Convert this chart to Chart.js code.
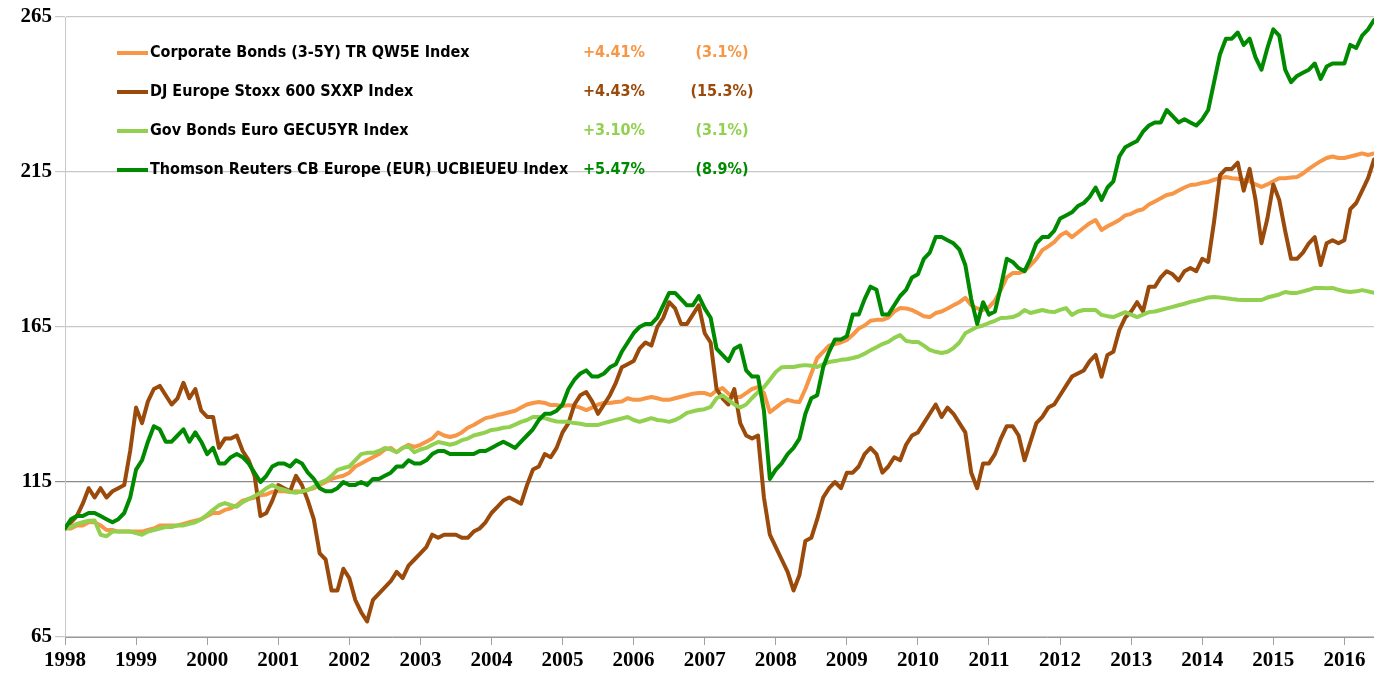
<!DOCTYPE html>
<html>
<head>
<meta charset="utf-8">
<script src="https://cdn.jsdelivr.net/npm/chart.js@4/dist/chart.umd.min.js"></script>
<style>
  html, body { margin: 0; padding: 0; background: #ffffff; }
  #wrap { width: 1374px; height: 676px; position: relative; }
  canvas { display: block; }
</style>
</head>
<body>
<div id="wrap"><canvas id="c" width="1374" height="676"></canvas></div>
<script>
// ---- Data (monthly index levels, base 100 at start of 1998) ----
const startYear = 1998;

const corpBonds = [
  100,100,101,101,102,102,101,99.5,99.5,99,99,99,
  99,99,99.5,100,101,101,101,101,101.5,102,102.5,103,
  104,105,105,106,106.5,107.5,109,109.5,110,110.7,111,111.8,
  112,112,111.8,112,111.8,112.5,113,114,115,116,116.6,117,
  118,120,121,122,123,124,125.5,126,124.6,126,127,126.3,
  127,128,129,131,130,129.5,130,131,132.5,133.4,134.5,135.6,
  136,136.6,137,137.5,138,139,140,140.5,140.8,140.5,139.8,139.8,
  139.5,139.8,139.5,139,138.2,139,140,140.5,140.5,140.8,141,142,
  141.5,141.5,142,142.4,142,141.5,141.5,142,142.5,143,143.5,143.7,
  143.7,143,144.5,145.3,143.5,142.4,142.4,143.7,145,145.6,143.7,137.5,
  139,140.5,141.5,141,140.8,145,150,155,157,159,159.5,160,
  160.8,162.5,164.5,165.5,167,167.3,167.3,168,170,171.1,171,170.5,
  169.5,168.5,168.2,169.5,170,171,172,173,174.4,172,171,170.5,
  171.4,173.5,177,181,182.4,182.4,183,185,187,189.8,191,192.4,
  194.5,195.6,194,195.5,197,198.5,199.5,196.3,197.5,198.5,199.5,201,
  201.5,202.5,203,204.5,205.5,206.5,207.6,208,209,210,210.8,211,
  211.5,211.8,212.5,213,213.4,213,212.8,212.4,212,211,210.2,211,
  212,213,213,213.2,213.4,214.5,216,217.3,218.5,219.5,220,219.5,
  219.5,220,220.5,221,220.5,221
];

const djStoxx = [
  100,102,104,108,113,110,113,110,112,113,114,125,
  139,134,141,145,146,143,140,142,147,142,145,138,
  136,136,126,129,129,130,125,122,117,104,105,109,
  114,113,112,117,114,109,103,92,90,80,80,87,
  84,77,73,70,77,79,81,83,86,84,88,90,
  92,94,98,97,98,98,98,97,97,99,100,102,
  105,107,109,110,109,108,114,119,120,124,123,126,
  131,134,140,143,144,141,137,140,143,147,152,153,
  154,158,160,159,165,168,173,171,166,166,169,172,
  163,160,145,142,140,145,134,130,129,130,110,98,
  94,90,86,80,85,96,97,103,110,113,115,113,
  118,118,120,124,126,124,118,120,123,122,127,130,
  131,134,137,140,136,139,137,134,131,118,113,121,
  121,124,129,133,133,130,122,128,134,136,139,140,
  143,146,149,150,151,154,156,149,156,157,164,168,
  170,173,170,178,178,181,183,182,180,183,184,183,
  187,186,199,214,216,216,218,209,216,206,192,200,
  211,206,196,187,187,189,192,194,185,192,193,192,
  193,203,205,209,213,219
];

const govBonds = [
  100,100.5,101.5,102,102.5,102.6,98,97.5,99,99,99,99,
  98.5,98,99,99.5,100,100.5,100.5,101,101,101.5,102,103,
  104.4,106,107.5,108.2,107.5,107,108.5,109.5,110.5,111.5,113,114,
  113,112.5,111.8,111.5,112,112.4,113.5,114.7,115.5,117,118.9,119.5,
  120,122,124,124.4,124.4,125,126,125.5,124.6,126,126.5,124.6,
  125.5,126,127,127.9,127.5,127,127.5,128.5,129,130,130.5,131,
  131.8,132,132.5,132.7,133.5,134.4,135,136,136,135.6,135,134.5,
  134.4,134.4,134,133.8,133.4,133.4,133.4,134,134.5,135,135.5,136,
  135,134.4,135,135.6,135,134.8,134.4,135,136,137.3,137.8,138.2,
  138.5,139.2,142,143,141.5,140,139,140,142.1,144,145.6,148,
  150.5,152,152.1,152.1,152.5,152.7,152.5,152.1,153,153.7,154,154.4,
  154.6,155,155.5,156.4,157.5,158.5,159.5,160.2,161.5,162.4,160.5,160.2,
  160.2,159,157.6,157,156.6,157,158.2,160,163,164,165,165.5,
  166.3,167,167.9,168,168.2,169,170.5,169.5,170,170.5,170,169.8,
  170.5,171.1,168.9,170,170.5,170.5,170.5,168.9,168.5,168.2,169,169.8,
  169,168.2,169,169.8,170,170.5,171,171.5,172,172.5,173.1,173.5,
  174,174.5,174.7,174.5,174.3,174,173.8,173.7,173.7,173.7,173.7,174.5,
  175,175.5,176.3,176,176,176.5,177,177.6,177.6,177.5,177.6,177,
  176.5,176.3,176.5,176.9,176.5,176
];

const thomsonCB = [
  100,103,104,104,105,105,104,103,102,103,105,110,
  119,122,128,133,132,128,128,130,132,128,131,128,
  124,126,121,121,123,124,123,121,118,115,117,120,
  121,121,120,122,121,118,116,113,112,112,113,115,
  114,114,115,114,116,116,117,118,120,120,122,121,
  121,122,124,125,125,124,124,124,124,124,125,125,
  126,127,128,127,126,128,130,132,135,137,137,138,
  140,145,148,150,151,149,149,150,152,153,157,160,
  163,165,166,166,168,172,176,176,174,172,172,175,
  171,168,158,156,154,158,159,151,149,149,138,116,
  119,121,124,126,129,137,142,143,152,157,161,161,
  162,169,169,174,178,177,169,169,172,175,177,181,
  182,187,189,194,194,193,192,190,185,174,166,173,
  169,170,178,187,186,184,183,187,192,194,194,196,
  200,201,202,204,205,207,210,206,210,212,220,223,
  224,225,228,230,231,231,235,233,231,232,231,230,
  232,235,244,253,258,258,260,256,258,252,248,255,
  261,259,248,244,246,247,248,250,245,249,250,250,
  250,256,255,259,261,264
];

const seriesNames = [
  'Corporate Bonds (3-5Y) TR QW5E Index',
  'DJ Europe Stoxx 600 SXXP Index',
  'Gov Bonds Euro GECU5YR Index',
  'Thomson Reuters CB Europe (EUR) UCBIEUEU Index'
];
const annualReturns = ['+4.41%', '+4.43%', '+3.10%', '+5.47%'];
const volatilities = ['(3.1%)', '(15.3%)', '(3.1%)', '(8.9%)'];
const yTickValues = [65, 115, 165, 215, 265];
const xYearLabels = [1998,1999,2000,2001,2002,2003,2004,2005,2006,2007,2008,2009,2010,2011,2012,2013,2014,2015,2016];

// ---- Styles ----
const seriesColors = ['#F79646', '#9A4A0B', '#92D050', '#008A00'];
const drawOrder = [4, 3, 2, 1];

function toPoints(arr) {
  return arr.map((v, i) => ({ x: startYear + i / 12, y: v }));
}
const allSeries = [corpBonds, djStoxx, govBonds, thomsonCB];
const nPoints = corpBonds.length;

const datasets = allSeries.map((arr, i) => ({
  label: seriesNames[i],
  data: toPoints(arr),
  borderColor: seriesColors[i],
  backgroundColor: seriesColors[i],
  borderWidth: 4,
  pointRadius: 0,
  tension: 0,
  order: drawOrder[i],
  borderJoinStyle: 'round',
  borderCapStyle: 'round'
}));

const legendFont = 'bold 16px "Liberation Sans Narrow", "DejaVu Sans Condensed", "Liberation Sans", sans-serif';
const insetLegend = {
  id: 'insetLegend',
  afterDatasetsDraw(chart) {
    const ctx = chart.ctx;
    ctx.save();
    const rowY = [53, 92, 131, 170];
    for (let i = 0; i < seriesNames.length; i++) {
      const y = rowY[i];
      ctx.strokeStyle = seriesColors[i];
      ctx.lineWidth = 4;
      ctx.beginPath();
      ctx.moveTo(117, y);
      ctx.lineTo(148, y);
      ctx.stroke();
      ctx.font = legendFont;
      ctx.textBaseline = 'middle';
      ctx.textAlign = 'left';
      ctx.fillStyle = '#000000';
      ctx.fillText(seriesNames[i], 150, y);
      ctx.fillStyle = seriesColors[i];
      ctx.fillText(annualReturns[i], 583, y);
      ctx.textAlign = 'center';
      ctx.fillText(volatilities[i], 722, y);
    }
    ctx.restore();
  }
};

const tickFont = { family: '"Liberation Serif", "DejaVu Serif", serif', size: 21, weight: 'bold' };

new Chart(document.getElementById('c'), {
  type: 'line',
  data: { datasets },
  options: {
    responsive: false,
    animation: false,
    devicePixelRatio: 1,
    layout: { padding: { top: 17, right: 0, left: 0, bottom: 0 } },
    plugins: { legend: { display: false }, tooltip: { enabled: false } },
    scales: {
      x: {
        type: 'linear',
        min: startYear,
        max: startYear + (nPoints - 1) / 12,
        afterBuildTicks: (axis) => {
          axis.ticks = xYearLabels.map(v => ({ value: v }));
        },
        afterFit: (scale) => { scale.height = 39; },
        grid: { drawOnChartArea: false, drawTicks: true, tickLength: 8, color: '#a0a0a0' },
        border: { display: true, color: '#9a9a9a', width: 1 },
        ticks: {
          autoSkip: false,
          maxRotation: 0,
          padding: 3,
          color: '#000000',
          font: tickFont,
          callback: (v) => String(v)
        }
      },
      y: {
        type: 'linear',
        min: yTickValues[0],
        max: yTickValues[yTickValues.length - 1],
        afterBuildTicks: (axis) => {
          axis.ticks = yTickValues.map(v => ({ value: v }));
        },
        afterFit: (scale) => { scale.width = 65; },
        grid: {
          color: (c) => (c.tick && c.tick.value === 115 ? '#8a8a8a' : '#c8c8c8'),
          lineWidth: 1.2,
          tickLength: 10
        },
        border: { display: true, color: '#c8c8c8', width: 1 },
        ticks: {
          padding: 3,
          color: '#000000',
          font: tickFont,
          callback: (v) => String(v)
        }
      }
    }
  },
  plugins: [insetLegend]
});
</script>
</body>
</html>
